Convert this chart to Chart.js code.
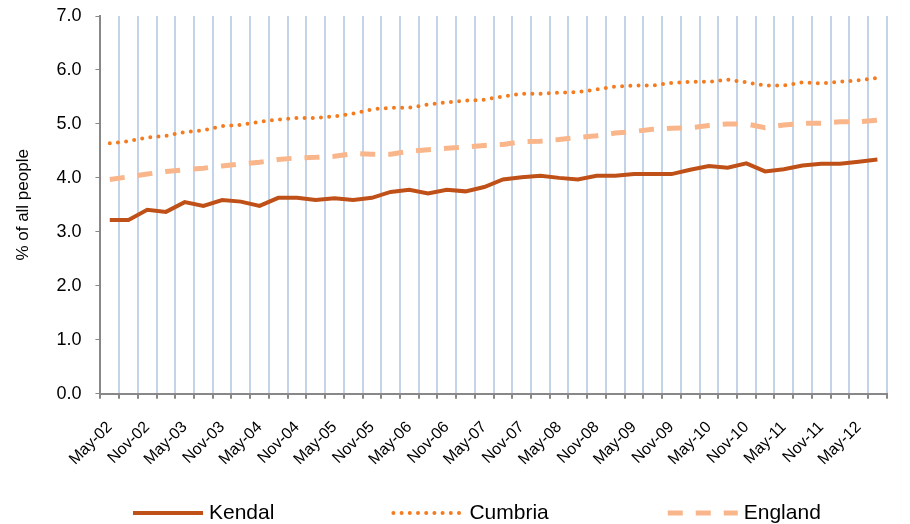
<!DOCTYPE html>
<html>
<head>
<meta charset="utf-8">
<script src="https://cdn.jsdelivr.net/npm/chart.js@4"></script>
<style>
  body { margin: 0; background: #fff; }
  #wrap { width: 910px; height: 524px; }
</style>
</head>
<body>
<div id="wrap"><canvas id="myChart" width="910" height="524"></canvas></div>
<script>
//quarterly categories, labels shown on every second one
var categories = ['May-02','Aug-02','Nov-02','Feb-03','May-03','Aug-03','Nov-03','Feb-04','May-04','Aug-04',
  'Nov-04','Feb-05','May-05','Aug-05','Nov-05','Feb-06','May-06','Aug-06','Nov-06','Feb-07',
  'May-07','Aug-07','Nov-07','Feb-08','May-08','Aug-08','Nov-08','Feb-09','May-09','Aug-09',
  'Nov-09','Feb-10','May-10','Aug-10','Nov-10','Feb-11','May-11','Aug-11','Nov-11','Feb-12',
  'May-12','Aug-12'];

//% of all people
var kendal = [3.22,3.22,3.41,3.37,3.55,3.48,3.59,3.56,3.48,3.63,3.63,3.59,3.62,3.59,3.63,3.74,3.78,3.71,3.78,3.75,
  3.83,3.97,4.01,4.04,4.00,3.97,4.04,4.04,4.07,4.07,4.07,4.15,4.22,4.19,4.27,4.12,4.16,4.23,4.26,4.26,4.30,4.34];
var cumbria = [4.64,4.68,4.75,4.78,4.85,4.88,4.96,4.98,5.04,5.08,5.11,5.11,5.14,5.19,5.27,5.30,5.30,5.36,5.40,5.43,
  5.45,5.51,5.56,5.56,5.58,5.59,5.64,5.69,5.71,5.71,5.76,5.78,5.78,5.82,5.77,5.71,5.71,5.77,5.75,5.78,5.81,5.85];
var england = [3.97,4.02,4.07,4.12,4.15,4.18,4.22,4.26,4.29,4.34,4.37,4.38,4.40,4.45,4.44,4.44,4.49,4.52,4.55,4.57,
  4.60,4.62,4.67,4.68,4.71,4.75,4.78,4.83,4.86,4.90,4.92,4.93,4.97,5.00,5.00,4.93,4.98,5.01,5.01,5.04,5.04,5.07];

var yTicks = [0, 1, 2, 3, 4, 5, 6, 7];

Chart.defaults.font.family = '"Liberation Sans", Arial, sans-serif';
Chart.defaults.color = '#000';

//legend drawn by hand so the dashes and spacing match the original
var bottomLegend = {
  id: 'bottomLegend',
  afterDraw: function (chart) {
    var c = chart.ctx;
    var x = 133, y = 513;
    c.save();
    c.font = '21px "Liberation Sans", Arial, sans-serif';
    c.textBaseline = 'middle';
    c.fillStyle = '#000';
    chart.data.datasets.forEach(function (ds) {
      c.beginPath();
      c.setLineDash(ds.borderDash || []);
      c.lineCap = ds.borderCapStyle || 'butt';
      c.lineWidth = ds.borderWidth;
      c.strokeStyle = ds.borderColor;
      c.moveTo(x, y);
      c.lineTo(x + 70, y);
      c.stroke();
      c.fillText(ds.label, x + 76, y);
      x += 76 + c.measureText(ds.label).width + 119;
    });
    c.restore();
  }
};

var ctx = document.getElementById('myChart').getContext('2d');

var myChart = new Chart(ctx, {
  type: 'line',
  data: {
    labels: categories,
    datasets: [{
      label: 'Kendal',
      data: kendal,
      borderColor: '#bf5118',
      borderWidth: 4,
      pointRadius: 0,
      tension: 0
    }, {
      label: 'Cumbria',
      data: cumbria,
      borderColor: '#f47c20',
      borderWidth: 4,
      borderDash: [0, 8.2],
      borderCapStyle: 'round',
      pointRadius: 0,
      tension: 0
    }, {
      label: 'England',
      data: england,
      borderColor: '#f9b68b',
      borderWidth: 5,
      borderDash: [15, 13],
      pointRadius: 0,
      tension: 0
    }]
  },
  options: {
    responsive: false,
    animation: false,
    layout: {
      padding: { left: 13, right: 2, top: 0, bottom: 36 }
    },
    plugins: {
      legend: { display: false },
      tooltip: { enabled: false }
    },
    scales: {
      x: {
        offset: true,
        grid: {
          offset: true,
          color: '#c3d4e9',
          lineWidth: 2,
          tickColor: '#888888',
          tickLength: 5
        },
        border: { color: '#888888', width: 2 },
        ticks: {
          autoSkip: false,
          minRotation: 45,
          maxRotation: 45,
          padding: 19,
          font: { size: 16 },
          callback: function (value, index) {
            return index % 2 === 0 ? categories[index] : '';
          }
        }
      },
      y: {
        min: 0,
        max: 7,
        afterBuildTicks: function (scale) {
          scale.ticks = yTicks.map(function (v) { return { value: v }; });
        },
        //keep the top of the axis close to the canvas edge
        afterFit: function (scale) {
          scale.paddingTop = 16;
        },
        grid: {
          drawOnChartArea: false,
          tickColor: '#888888',
          tickLength: 5
        },
        border: { color: '#888888', width: 2 },
        ticks: {
          padding: 14,
          font: { size: 18 },
          callback: function (value) { return value.toFixed(1); }
        },
        title: {
          display: true,
          text: '% of all people',
          font: { size: 17 },
          padding: { top: 0, bottom: 9 }
        }
      }
    }
  },
  plugins: [bottomLegend]
});
</script>
</body>
</html>
